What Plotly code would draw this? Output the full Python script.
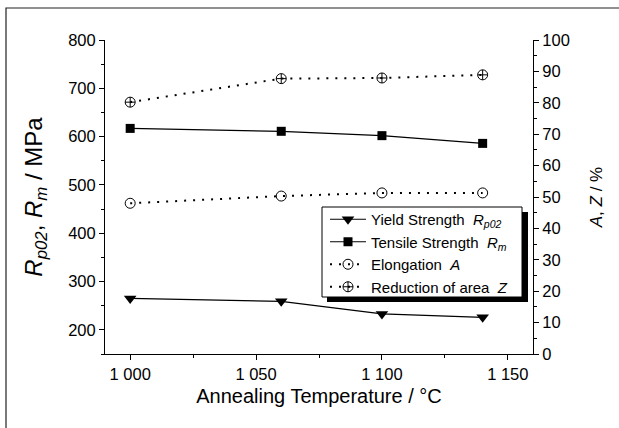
import plotly.graph_objects as go

# ---- data ----
temps = [1000, 1060, 1100, 1140]
yield_strength = [265, 259, 233, 226]
tensile_strength = [617, 611, 602, 586]
elongation = [48.0, 50.3, 51.3, 51.3]
reduction_area = [80.2, 87.7, 87.9, 88.9]

x_tickvals = [1000, 1050, 1100, 1150]
x_ticktext = ["1 000", "1 050", "1 100", "1 150"]
left_tickvals = [200, 300, 400, 500, 600, 700, 800]
right_tickvals = [0, 10, 20, 30, 40, 50, 60, 70, 80, 90, 100]

FONT = "Liberation Sans, Arial, sans-serif"
W, H = 619, 428
L, R, T, B = 105, 533, 40, 354

def px2paper_x(px):
    return (px - L) / (R - L)

def px2paper_y(py):
    return (B - py) / (B - T)

fig = go.Figure()

fig.add_trace(go.Scatter(
    x=temps, y=yield_strength, name="Yield Strength  <i>R<sub>p02</sub></i>",
    mode="lines+markers", line=dict(color="black", width=1.2),
    marker=dict(symbol="triangle-down", size=11, color="black"),
))
fig.add_trace(go.Scatter(
    x=temps, y=tensile_strength, name="Tensile Strength  <i>R<sub>m</sub></i>",
    mode="lines+markers", line=dict(color="black", width=1.2),
    marker=dict(symbol="square", size=9, color="black"),
))
fig.add_trace(go.Scatter(
    x=temps, y=elongation, name="Elongation  <i>A</i>", yaxis="y2",
    mode="lines+markers", line=dict(color="black", width=2, dash="2px,7px"),
    marker=dict(symbol="circle-open", size=10, color="black", line=dict(width=1)),
))
fig.add_trace(go.Scatter(
    x=temps, y=reduction_area, name="Reduction of area  <i>Z</i>", yaxis="y2",
    mode="lines+markers", line=dict(color="black", width=2, dash="2px,7px"),
    marker=dict(symbol="circle-cross-open", size=10, color="black", line=dict(width=1)),
))

axis_common = dict(
    showline=True, linecolor="black", linewidth=1, showgrid=False, zeroline=False,
    ticks="outside", ticklen=5, tickcolor="black", tickwidth=1,
    tickfont=dict(family=FONT, size=16.5, color="black"),
)

fig.update_layout(
    width=W, height=H,
    margin=dict(l=L, r=W - R, t=T, b=H - B),
    paper_bgcolor="white", plot_bgcolor="white",
    font=dict(family=FONT, color="black"),
    xaxis=dict(
        range=[990, 1160], tickvals=x_tickvals, ticktext=x_ticktext,
        minor=dict(dtick=25, tick0=1000, ticks="outside", ticklen=3, tickcolor="black"),
        title=dict(text="Annealing Temperature / °C", font=dict(size=20), standoff=7),
        **axis_common,
    ),
    xaxis2=dict(
        range=[990, 1160], overlaying="x", side="top", anchor="y",
        tickvals=x_tickvals, showticklabels=False,
        showline=True, linecolor="black", linewidth=1, showgrid=False, zeroline=False,
        ticks="inside", ticklen=5, tickcolor="black",
        minor=dict(dtick=25, tick0=1000, ticks="inside", ticklen=3, tickcolor="black"),
    ),
    yaxis=dict(
        range=[150, 800], tickvals=left_tickvals,
        minor=dict(dtick=50, tick0=150, ticks="outside", ticklen=3, tickcolor="black"),
        title=dict(text="<i>R<sub>p02</sub></i>, <i>R<sub>m</sub></i> / MPa", font=dict(size=24), standoff=18),
        **axis_common,
    ),
    yaxis2=dict(
        range=[0, 100], tickvals=right_tickvals, overlaying="y", side="right", anchor="x",
        minor=dict(dtick=5, tick0=0, ticks="outside", ticklen=3, tickcolor="black"),
        title=dict(text="<i>A</i>, <i>Z</i> / %", font=dict(size=17), standoff=21),
        **axis_common,
    ),
    legend=dict(
        x=px2paper_x(325), y=px2paper_y(203), xanchor="left", yanchor="top",
        bgcolor="rgba(0,0,0,0)", borderwidth=0,
        font=dict(family=FONT, size=15, color="black"),
        tracegroupgap=0, itemwidth=36,
    ),
    showlegend=True,
)

# legend drop shadow
fig.add_shape(type="rect", xref="paper", yref="paper",
              x0=px2paper_x(327), x1=px2paper_x(528),
              y0=px2paper_y(302), y1=px2paper_y(212),
              fillcolor="black", line=dict(width=0), layer="above")
# legend box
fig.add_shape(type="rect", xref="paper", yref="paper",
              x0=px2paper_x(322), x1=px2paper_x(522),
              y0=px2paper_y(297), y1=px2paper_y(207),
              fillcolor="white", line=dict(color="black", width=1), layer="above")

# outer frame
fig.add_shape(type="rect", xref="paper", yref="paper",
              x0=px2paper_x(6), x1=px2paper_x(640),
              y0=px2paper_y(445), y1=px2paper_y(8),
              line=dict(color="#222", width=1.2), fillcolor="rgba(0,0,0,0)", layer="above")

fig.write_html("out.html", config={"displayModeBar": False},
               post_script="document.body.style.margin='0';document.body.style.overflow='hidden';")
